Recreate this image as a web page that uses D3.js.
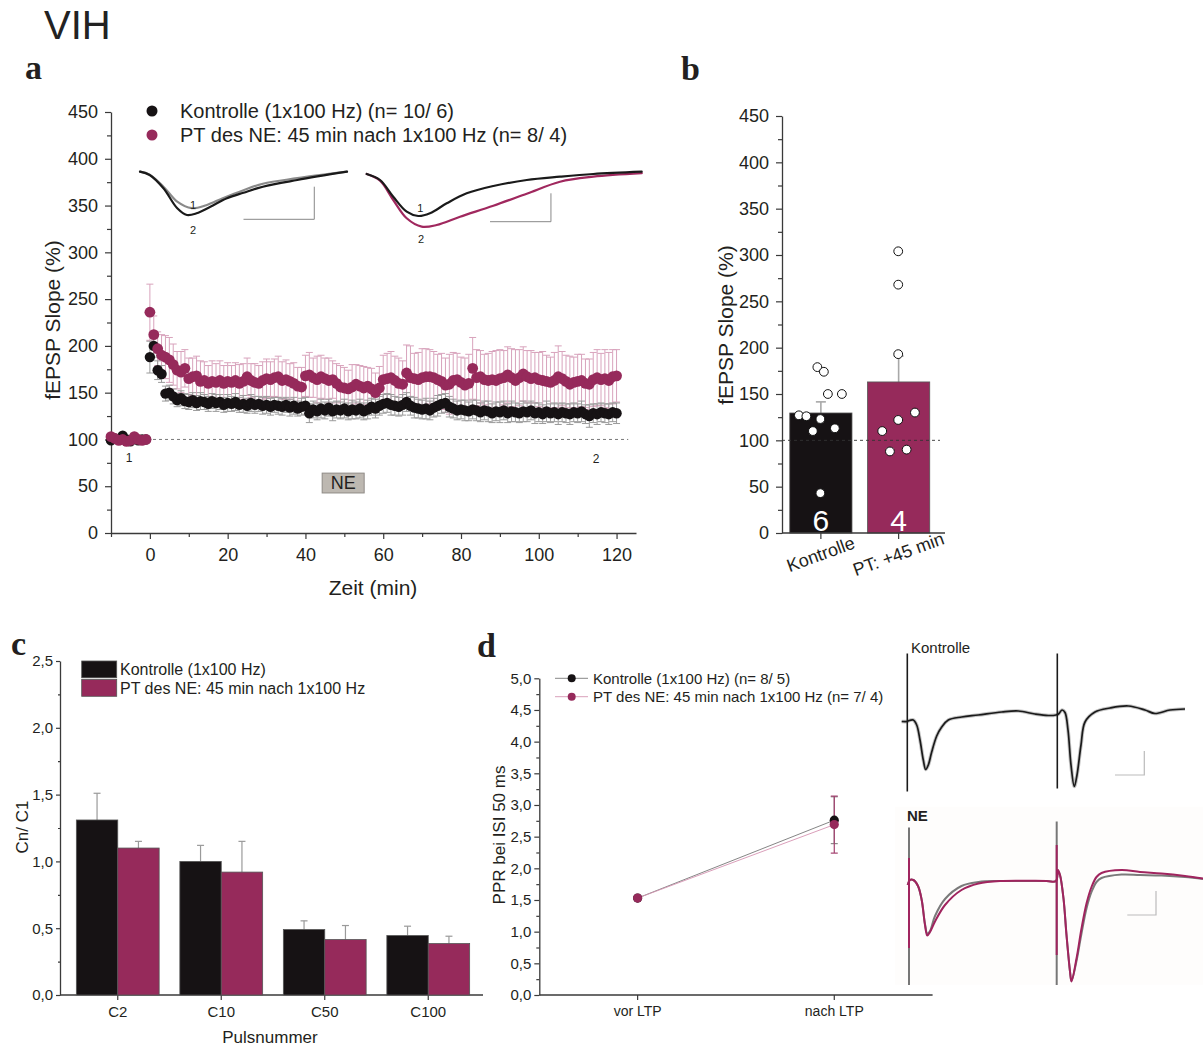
<!DOCTYPE html>
<html><head><meta charset="utf-8">
<script src="https://cdn.jsdelivr.net/npm/d3@7/dist/d3.min.js"></script>
<style>html,body{margin:0;padding:0;background:#fff;}svg{display:block;}</style>
</head><body>
<svg id="fig" width="1203" height="1046" font-family="'Liberation Sans', Arial, Helvetica, sans-serif"></svg>
<script>
// ================= DATA =================
// Panel a: time course (min), baseline -10..-1, then 0..120
const minutes = d3.range(-10, 121);
const kontrolleSlope = [
 99,101,100,104,100,98,101,99,100,100,
 188,200,174,170,149,150,146,142,144,141,
 140,142,139,141,140,138,141,139,140,137,
 139,138,140,137,138,136,139,137,138,136,
 137,135,137,136,135,137,134,136,133,135,
 136,128,132,130,133,131,134,130,132,131,
 133,130,132,131,133,130,132,135,133,136,
 138,139,137,136,135,137,140,136,134,133,
 132,133,131,134,136,138,139,135,133,131,
 132,131,130,132,131,129,131,130,128,130,
 129,131,128,130,129,128,130,129,131,128,
 129,127,130,128,129,127,129,128,127,129,
 128,130,127,125,128,127,129,128,127,129,
 128];
const kontrolleSem = [
 3,3,2,3,3,2,3,2,3,2,
 17,12,10,9,8,8,8,7,8,8,
 8,8,8,9,8,8,8,9,8,8,
 9,8,9,8,9,8,9,9,8,9,
 9,9,8,9,9,8,9,9,8,9,
 9,10,9,9,10,9,9,10,9,9,
 10,9,10,9,10,9,10,9,10,10,
 10,10,11,10,10,11,10,10,11,10,
 10,11,10,10,11,10,10,11,10,10,
 10,11,10,10,11,10,10,11,10,10,
 11,10,10,11,10,10,11,10,10,11,
 10,10,11,10,10,11,10,10,11,10,
 10,11,10,12,10,11,10,10,11,10,
 11];
const ptSlope = [
 103,101,99,100,98,99,103,100,99,100,
 236,212,197,190,188,185,180,174,172,176,
 165,167,168,162,163,160,162,161,163,160,
 162,161,163,160,162,167,163,161,160,163,
 165,164,166,167,163,164,162,160,157,156,
 168,169,166,164,167,165,163,164,160,156,
 155,154,156,159,157,155,157,154,150,155,
 164,165,166,163,160,159,171,166,165,164,
 166,167,167,166,164,162,158,159,163,164,
 161,158,160,176,166,167,164,163,164,163,
 165,166,169,166,163,166,170,167,165,166,
 164,163,162,161,163,167,165,162,159,161,
 162,163,160,159,164,166,164,165,163,167,
 168];
const ptSem = [
 3,3,3,2,3,3,3,2,3,2,
 30,20,18,22,23,24,22,20,22,20,
 22,20,21,22,20,19,22,20,21,19,
 20,18,19,20,19,20,18,20,19,20,
 21,19,20,22,20,21,19,22,20,21,
 22,24,21,25,23,22,24,20,21,23,
 22,20,24,21,22,23,20,22,21,23,
 26,27,28,26,27,25,30,34,27,29,
 31,30,29,28,27,30,29,32,30,28,
 27,29,31,33,30,28,27,29,30,32,
 31,29,30,31,33,30,29,28,30,27,
 29,31,28,27,30,33,29,28,30,27,
 29,28,26,27,29,30,28,31,30,29,
 28];
const neWindow = [44.3, 55.1];           // NE application (min)
const legendA = ["Kontrolle (1x100 Hz) (n= 10/ 6)", "PT des NE: 45 min nach 1x100 Hz (n= 8/ 4)"];
const yTicksA = d3.range(0, 451, 50);
const xTicksA = [0, 20, 40, 60, 80, 100, 120];

// Panel a insets: fEPSP sweeps [ms, mV]
const sweepK1 = [[0,0],[0.7,-0.03],[1.7,-0.15],[2.7,-0.30],[3.75,-0.365],[4.8,-0.335],[6.0,-0.265],[7.5,-0.185],[8.9,-0.12],[11.4,-0.065],[15,0]];
const sweepK2 = [[0,0],[0.7,-0.033],[1.7,-0.166],[2.7,-0.366],[3.4,-0.433],[4.1,-0.416],[5.1,-0.35],[6.3,-0.266],[7.5,-0.21],[8.9,-0.15],[11.4,-0.083],[15,0]];
const sweepP1 = [[0,-0.023],[0.97,-0.083],[1.93,-0.25],[2.91,-0.40],[3.75,-0.443],[4.6,-0.416],[5.82,-0.316],[7.27,-0.216],[9.21,-0.143],[11.64,-0.083],[14.06,-0.05],[16.48,-0.023],[20,0]];
const sweepP2 = [[0,-0.023],[0.97,-0.09],[1.93,-0.283],[2.91,-0.466],[4,-0.55],[5.09,-0.533],[6.79,-0.45],[9.21,-0.34],[11.64,-0.22],[14.06,-0.1],[16.48,-0.05],[20,-0.015]];

// Panel b
const barGroups = ["Kontrolle", "PT: +45 min"];
const barMeans = [129.5, 163];
const barSem = [12, 28];
const barN = ["6", "4"];
const cellsKontrolle = [179, 174, 150, 150, 127, 126, 123, 110, 113, 43];
const cellsPT = [304, 268, 193, 130, 122, 110, 88, 90];

// Panel c
const pulseCats = ["C2", "C10", "C50", "C100"];
const ratioKontrolle = [1.31, 1.00, 0.49, 0.445];
const ratioKontrolleSem = [0.20, 0.12, 0.065, 0.07];
const ratioPT = [1.10, 0.92, 0.415, 0.385];
const ratioPTSem = [0.05, 0.23, 0.105, 0.055];
const legendC = ["Kontrolle (1x100 Hz)", "PT des NE: 45 min nach 1x100 Hz"];

// Panel d
const pprConds = ["vor LTP", "nach LTP"];
const pprKontrolle = [1.53, 2.76];
const pprKontrolleSem = [0, 0.37];
const pprPT = [1.53, 2.69];
const pprPTSem = [0, 0.45];
const legendD = ["Kontrolle (1x100 Hz) (n= 8/ 5)", "PT des NE: 45 min nach 1x100 Hz (n= 7/ 4)"];

// Panel d paired-pulse sweeps [ms, mV]
const ppKontrolle = [[0.34,-0.01],[1.4,-0.01],[1.6,0],[2.66,0.02],[3.34,-0.08],[4.0,-0.38],[4.66,-0.78],[5.14,-0.97],[5.66,-0.88],[6.34,-0.62],[7.34,-0.30],[8.34,-0.12],[9.66,0.02],[12.34,0.08],[15.66,0.12],[20.34,0.18],[23.66,0.2],[27,0.14],[29.66,0.11],[31.2,0.12],[31.7,0.14],[32.4,0.22],[33,0.17],[33.6,-0.18],[34.2,-0.88],[34.86,-1.31],[35.4,-1.08],[36.2,-0.48],[37,-0.02],[39,0.18],[42,0.26],[45.66,0.3],[49,0.22],[51,0.15],[54,0.22],[57,0.24]];
const ppKontrolleStim = [[1.46,1.35,-1.41],[31.46,1.35,-1.35]];
const ppNEbefore = [[1.54,-0.08],[2.0,0.02],[2.66,0.02],[3.6,-0.1],[4.34,-0.38],[5,-0.86],[5.46,-1.05],[6,-1.0],[7,-0.7],[9,-0.36],[12.3,-0.1],[15.7,-0.02],[20,0],[29.3,0],[31.2,0],[31.6,0.2],[32,0.12],[32.7,-0.35],[33.3,-1.08],[34,-1.81],[34.3,-2.0],[35.3,-1.6],[36.3,-1.05],[37.3,-0.55],[38.3,-0.22],[39.3,-0.02],[40.3,0.06],[44.3,0.13],[48,0.12],[52.3,0.11],[57,0.08],[60.6,0.04]];
const ppNEafter = [[1.54,-0.08],[2.0,0.02],[2.66,0.02],[3.6,-0.1],[4.34,-0.38],[5,-0.88],[5.46,-1.09],[6,-1.02],[7,-0.81],[9,-0.48],[12.3,-0.18],[15.7,-0.05],[20,0],[29.3,0],[31.2,0],[31.6,0.22],[32,0.12],[32.7,-0.35],[33.3,-1.08],[34,-1.81],[34.3,-2.01],[35.3,-1.55],[36.3,-0.95],[37.3,-0.45],[38.3,-0.12],[39.3,0.08],[40.3,0.16],[44.3,0.22],[48,0.18],[52.3,0.15],[57,0.1],[60.6,0.05]];
const ppNEbeforeStim = [[1.8,1.07,-2.08],[31.34,1.19,-2.08]];
const ppNEafterStim = [[1.8,0.46,-1.34],[31.34,0.72,-1.48]];

// ================= DRAW =================
const svg = d3.select("#fig");
svg.append("rect").attr("width",1203).attr("height",1046).attr("fill","#fff");
const INK="#231f20", AX="#3a3a3a", PLUM="#962a5b", BLK="#161214";
const commaFmt = d => d.toFixed(1).replace(".", ",");

function styleAxis(g, fs){
  g.attr("font-size",null).attr("font-family",null);
  g.selectAll("text").attr("font-size",fs).attr("fill",INK);
  g.selectAll("line").attr("stroke",AX).attr("stroke-width",1.2);
  g.select(".domain").attr("stroke",AX).attr("stroke-width",1.3);
}
function leftAxis(x, scale, major, minor, fmt, fs, tick, pad){
  const g = svg.append("g").attr("transform",`translate(${x},0)`);
  g.call(d3.axisLeft(scale).tickValues(major).tickSize(tick).tickSizeOuter(0).tickPadding(pad).tickFormat(fmt));
  styleAxis(g, fs);
  const m = svg.append("g").attr("transform",`translate(${x},0)`);
  m.call(d3.axisLeft(scale).tickValues(minor).tickSize(Math.round(tick*0.6)).tickFormat(""));
  m.select(".domain").remove(); styleAxis(m, fs);
}
function bottomAxis(y, scale, major, minor, fmt, fs, tick, pad){
  const g = svg.append("g").attr("transform",`translate(0,${y})`);
  g.call(d3.axisBottom(scale).tickValues(major).tickSize(tick).tickSizeOuter(0).tickPadding(pad).tickFormat(fmt));
  styleAxis(g, fs);
  if (minor && minor.length){
    const m = svg.append("g").attr("transform",`translate(0,${y})`);
    m.call(d3.axisBottom(scale).tickValues(minor).tickSize(Math.round(tick*0.7)).tickFormat(""));
    m.select(".domain").remove(); styleAxis(m, fs);
  }
  return g;
}
function label(x,y,txt,fs,opt={}){
  const t = svg.append("text").attr("x",x).attr("y",y).attr("font-size",fs).attr("fill",opt.fill||INK)
    .attr("text-anchor",opt.anchor||"start").text(txt);
  if(opt.rot!==undefined) t.attr("x",0).attr("y",0).attr("transform",`translate(${x},${y}) rotate(${opt.rot})`);
  if(opt.weight) t.attr("font-weight",opt.weight);
  if(opt.family) t.style("font-family",opt.family);
  return t;
}
const serif = "'Liberation Serif','Times New Roman',serif";

// Title + panel letters
label(44,39,"VIH",40,{fill:"#222"});
label(25,79,"a",34,{weight:"bold",family:serif});
label(681,80,"b",34,{weight:"bold",family:serif});
label(11,655,"c",34,{weight:"bold",family:serif});
label(477,657,"d",34,{weight:"bold",family:serif});

// ---------- Panel a ----------
const xA = d3.scaleLinear().domain([-10,125]).range([111,636]);
const yA = d3.scaleLinear().domain([0,450]).range([533,112]);
leftAxis(111, yA, yTicksA, d3.range(25,450,50), d3.format("d"), 18, 6, 7);
bottomAxis(533, xA, xTicksA, d3.range(-10,121,20), d3.format("d"), 18, 6, 9);
label(60,320,"fEPSP Slope (%)",21,{anchor:"middle",rot:-90});
label(373,595,"Zeit (min)",21,{anchor:"middle"});
// 100 % line
svg.append("line").attr("x1",xA(-10)).attr("x2",xA(123)).attr("y1",yA(100)).attr("y2",yA(100))
  .attr("stroke","#555").attr("stroke-width",0.8).attr("stroke-dasharray","3,3");
// NE box
svg.append("rect").attr("x",xA(neWindow[0])).attr("width",xA(neWindow[1])-xA(neWindow[0]))
  .attr("y",yA(64)).attr("height",yA(42.8)-yA(64)).attr("fill","#bdb8b1").attr("stroke","#8f8b86").attr("stroke-width",1);
label((xA(neWindow[0])+xA(neWindow[1]))/2, yA(46.5), "NE", 18, {anchor:"middle"});
label(129,462,"1",12,{anchor:"middle"});
label(596,463,"2",12,{anchor:"middle"});

const ctrl = minutes.map((t,i)=>({t, v:kontrolleSlope[i], e:kontrolleSem[i]}));
const pt = minutes.map((t,i)=>({t, v:ptSlope[i], e:ptSem[i]}));
function errBars(data, color, cap, sw){
  const g = svg.append("g").attr("stroke",color).attr("stroke-width",sw).attr("fill","none");
  data.forEach(d=>{
    const x = xA(d.t);
    g.append("line").attr("x1",x).attr("x2",x).attr("y1",yA(d.v-d.e)).attr("y2",yA(d.v+d.e));
    g.append("line").attr("x1",x-cap).attr("x2",x+cap).attr("y1",yA(d.v+d.e)).attr("y2",yA(d.v+d.e));
    g.append("line").attr("x1",x-cap).attr("x2",x+cap).attr("y1",yA(d.v-d.e)).attr("y2",yA(d.v-d.e));
  });
}
errBars(pt, "#d8a3bc", 3.5, 1);
errBars(ctrl, "#9a9a9a", 3.5, 1);
svg.append("g").selectAll("circle").data(ctrl).join("circle")
  .attr("cx",d=>xA(d.t)).attr("cy",d=>yA(d.v)).attr("r",5.2).attr("fill",BLK);
svg.append("g").selectAll("circle").data(pt).join("circle")
  .attr("cx",d=>xA(d.t)).attr("cy",d=>yA(d.v)).attr("r",5.4).attr("fill",PLUM);

// legend a
[[BLK,111],[PLUM,135]].forEach(([c,y],i)=>{
  svg.append("circle").attr("cx",152).attr("cy",y).attr("r",5.5).attr("fill",c);
  label(180,y+7,legendA[i],20);
});

// insets a
const yIn = d3.scaleLinear().domain([0,-1]).range([171.7,271.7]);
const xInL = d3.scaleLinear().domain([0,15]).range([140,347]);
const xInR = d3.scaleLinear().domain([0,20]).range([366.7,641.7]);
const sweepLine = xs => d3.line().x(d=>xs(d[0])).y(d=>yIn(d[1])).curve(d3.curveCatmullRom.alpha(0.5));
function drawSweep(data, xs, color, w){
  svg.append("path").datum(data).attr("d",sweepLine(xs)).attr("fill","none").attr("stroke",color)
    .attr("stroke-width",w).attr("stroke-linejoin","round").attr("stroke-linecap","round");
}
drawSweep(sweepK1, xInL, "#8a8a8a", 2.2);
drawSweep(sweepK2, xInL, "#1a1a1a", 2.2);
drawSweep(sweepP2, xInR, "#a0285e", 2.2);
drawSweep(sweepP1, xInR, "#1a1a1a", 2.2);
function scaleBar(xs, t, ms, v, mv){
  svg.append("path").attr("d",`M${xs(t)},${yIn(v)}H${xs(t+ms)}V${yIn(v+mv)}`)
    .attr("fill","none").attr("stroke","#888").attr("stroke-width",1);
}
scaleBar(xInL, 7.5, 5.13, -0.476, 0.326);
scaleBar(xInR, 8.97, 4.43, -0.5, 0.284);
label(xInL(3.85), yIn(-0.33)+4, "1", 11, {anchor:"middle"});
label(xInL(3.85), yIn(-0.58)+4, "2", 11, {anchor:"middle"});
label(xInR(3.9), yIn(-0.36)+4, "1", 11, {anchor:"middle"});
label(xInR(3.95), yIn(-0.67)+4, "2", 11, {anchor:"middle"});

// ---------- Panel b ----------
const yB = d3.scaleLinear().domain([0,450]).range([533,116]);
const xB = d3.scaleBand().domain(barGroups).range([782,937.5]).paddingInner(0.2).paddingOuter(0.1);
leftAxis(782, yB, yTicksA, d3.range(25,450,50), d3.format("d"), 18, 6, 7);
label(733,325,"fEPSP Slope (%)",21,{anchor:"middle",rot:-90});
const barFill = [BLK, PLUM];
barGroups.forEach((g,i)=>{
  const x = xB(g), w = xB.bandwidth(), cx = x + w/2;
  svg.append("line").attr("x1",cx).attr("x2",cx).attr("y1",yB(barMeans[i])).attr("y2",yB(barMeans[i]+barSem[i]))
    .attr("stroke","#a8a8a8").attr("stroke-width",1.6);
  svg.append("line").attr("x1",cx-5).attr("x2",cx+5).attr("y1",yB(barMeans[i]+barSem[i])).attr("y2",yB(barMeans[i]+barSem[i]))
    .attr("stroke","#a8a8a8").attr("stroke-width",1.6);
  svg.append("rect").attr("x",x).attr("width",w).attr("y",yB(barMeans[i])).attr("height",yB(0)-yB(barMeans[i]))
    .attr("fill",barFill[i]).attr("stroke","#555").attr("stroke-width",0.8);
  label(cx, 531, barN[i], 30, {anchor:"middle", fill:"#fff"});
});
svg.append("line").attr("x1",782).attr("x2",940).attr("y1",yB(100)).attr("y2",yB(100))
  .attr("stroke","#333").attr("stroke-width",0.9).attr("stroke-dasharray","3,3");
// x axis b
const gxb = svg.append("g").attr("transform","translate(0,533)");
gxb.append("line").attr("x1",782).attr("x2",945).attr("stroke",AX).attr("stroke-width",1.3);
barGroups.forEach(g=>{
  const cx = xB(g)+xB.bandwidth()/2;
  gxb.append("line").attr("x1",cx).attr("x2",cx).attr("y1",0).attr("y2",6).attr("stroke",AX).attr("stroke-width",1.2);
  label(cx+2, 560, g, 18, {anchor:"middle", rot:-20});
});
// individual cells (jitter is layout only)
const jitK = [-3.5, 3, 7, 21, -22, -14.5, -0.5, -8, 14, -0.5];
const jitP = [-0.4, -0.4, -0.4, 16.3, -0.4, -16.4, -8.7, 8];
[[cellsKontrolle,jitK,0],[cellsPT,jitP,1]].forEach(([vals,jit,i])=>{
  const cx = xB(barGroups[i])+xB.bandwidth()/2;
  svg.append("g").selectAll("circle").data(vals).join("circle")
    .attr("cx",(d,j)=>cx+jit[j]).attr("cy",d=>yB(d)).attr("r",4.4)
    .attr("fill","#fff").attr("stroke","#111").attr("stroke-width",1);
});

// ---------- Panel c ----------
const yC = d3.scaleLinear().domain([0,2.5]).range([995,661]);
const xC = d3.scaleBand().domain(pulseCats).range([66,480]).paddingInner(0.2).paddingOuter(0.1);
const xC1 = d3.scaleBand().domain(["k","p"]).range([0,xC.bandwidth()]);
leftAxis(60, yC, d3.range(0,2.51,0.5), d3.range(0.25,2.5,0.5), commaFmt, 15, 4, 3);
const gxc = svg.append("g").attr("transform","translate(0,995)");
pulseCats.forEach((c,i)=>{
  const x = xC(c);
  [[ratioKontrolle, ratioKontrolleSem, "k", BLK],[ratioPT, ratioPTSem, "p", PLUM]].forEach(([v,e,k,col])=>{
    const bx = x + xC1(k), bw = xC1.bandwidth(), cx = bx + bw/2;
    svg.append("line").attr("x1",cx).attr("x2",cx).attr("y1",yC(v[i])).attr("y2",yC(v[i]+e[i])).attr("stroke","#9a9a9a").attr("stroke-width",1.2);
    svg.append("line").attr("x1",cx-3.5).attr("x2",cx+3.5).attr("y1",yC(v[i]+e[i])).attr("y2",yC(v[i]+e[i])).attr("stroke","#9a9a9a").attr("stroke-width",1.2);
    svg.append("rect").attr("x",bx).attr("width",bw).attr("y",yC(v[i])).attr("height",yC(0)-yC(v[i]))
      .attr("fill",col).attr("stroke","#555").attr("stroke-width",0.8);
  });
  const cx = x + xC.bandwidth()/2;
  gxc.append("line").attr("x1",cx).attr("x2",cx).attr("y1",0).attr("y2",5).attr("stroke",AX).attr("stroke-width",1.2);
  label(cx, 1017, c, 15, {anchor:"middle"});
});
gxc.append("line").attr("x1",60).attr("x2",483).attr("stroke",AX).attr("stroke-width",1.3);
label(28,827,"Cn/ C1",17,{anchor:"middle",rot:-90});
label(270,1043,"Pulsnummer",17,{anchor:"middle"});
[[BLK,661],[PLUM,679.5]].forEach(([c,y],i)=>{
  svg.append("rect").attr("x",81.7).attr("y",y).attr("width",35).attr("height",16.8).attr("fill",c).attr("stroke","#555").attr("stroke-width",0.8);
  label(120,y+14,legendC[i],16);
});

// ---------- Panel d ----------
const xD = d3.scaleLinear().domain([0.5,2.5]).range([539.3,932.6]);
const yD = d3.scaleLinear().domain([0,5]).range([995,678.3]);
// trace background
svg.append("rect").attr("x",895).attr("y",806.7).attr("width",308).attr("height",178).attr("fill","#fefdfc");
leftAxis(539.3, yD, d3.range(0,5.01,0.5), d3.range(0.25,5,0.5), commaFmt, 15, 5, 3);
const gxd = svg.append("g").attr("transform","translate(0,995)");
gxd.append("line").attr("x1",539.3).attr("x2",932.6).attr("stroke",AX).attr("stroke-width",1.3);
pprConds.forEach((c,i)=>{
  const cx = xD(i+1);
  gxd.append("line").attr("x1",cx).attr("x2",cx).attr("y1",0).attr("y2",5).attr("stroke",AX).attr("stroke-width",1.2);
  label(cx, 1016, c, 14, {anchor:"middle"});
});
label(505,835,"PPR bei ISI 50 ms",17,{anchor:"middle",rot:-90});
const pprLine = d3.line().x((d,i)=>xD(i+1)).y(d=>yD(d));
svg.append("path").datum(pprKontrolle).attr("d",pprLine).attr("fill","none").attr("stroke","#777").attr("stroke-width",0.9);
svg.append("path").datum(pprPT).attr("d",pprLine).attr("fill","none").attr("stroke","#d694b2").attr("stroke-width",0.9);
function pprErr(v,e,col){
  v.forEach((m,i)=>{ if(!e[i]) return; const cx = xD(i+1);
    svg.append("line").attr("x1",cx).attr("x2",cx).attr("y1",yD(m-e[i])).attr("y2",yD(m+e[i])).attr("stroke",col).attr("stroke-width",1.2);
    [m-e[i], m+e[i]].forEach(yy=>svg.append("line").attr("x1",cx-3.5).attr("x2",cx+3.5).attr("y1",yD(yy)).attr("y2",yD(yy)).attr("stroke",col).attr("stroke-width",1.2));
  });
}
pprErr(pprKontrolle, pprKontrolleSem, "#8a8a8a");
pprErr(pprPT, pprPTSem, "#a3416f");
svg.append("g").selectAll("circle").data(pprKontrolle).join("circle").attr("cx",(d,i)=>xD(i+1)).attr("cy",d=>yD(d)).attr("r",4.6).attr("fill",BLK);
svg.append("g").selectAll("circle").data(pprPT).join("circle").attr("cx",(d,i)=>xD(i+1)).attr("cy",d=>yD(d)).attr("r",4.6).attr("fill",PLUM);
[[BLK,"#888",678.3],[PLUM,"#d9a0ba",696.7]].forEach(([c,lc,y],i)=>{
  svg.append("line").attr("x1",555).attr("x2",588).attr("y1",y).attr("y2",y).attr("stroke",lc).attr("stroke-width",1);
  svg.append("circle").attr("cx",571.7).attr("cy",y).attr("r",4).attr("fill",c);
  label(593,y+5.5,legendD[i],15);
});

// paired-pulse sweeps
const xPP = d3.scaleLinear().domain([0,60]).range([900,1200]);
const yPPtop = d3.scaleLinear().domain([-1.5,1.5]).range([796,646]);
const yPPbot = d3.scaleLinear().domain([-1.5,1.5]).range([956,806]);
function ppSweep(data, ys, color, w){
  svg.append("path").datum(data).attr("d", d3.line().x(d=>xPP(d[0])).y(d=>ys(d[1])).curve(d3.curveCatmullRom.alpha(0.5)))
    .attr("fill","none").attr("stroke",color).attr("stroke-width",w).attr("stroke-linejoin","round");
}
function ppStim(data, ys, color, w){
  data.forEach(d=>svg.append("line").attr("x1",xPP(d[0])).attr("x2",xPP(d[0])).attr("y1",ys(d[1])).attr("y2",ys(d[2]))
    .attr("stroke",color).attr("stroke-width",w));
}
ppSweep(ppKontrolle, yPPtop, "#c4c4c4", 3.6);
ppStim(ppKontrolleStim, yPPtop, "#1a1a1a", 1.6);
ppSweep(ppKontrolle, yPPtop, "#1a1a1a", 1.7);
ppStim(ppNEbeforeStim, yPPbot, "#777", 2);
ppSweep(ppNEbefore, yPPbot, "#7a7a7a", 2);
ppStim(ppNEafterStim, yPPbot, "#a0245e", 2);
ppSweep(ppNEafter, yPPbot, "#a0245e", 2);
function ppBar(ys, t, ms, v, mv){
  svg.append("path").attr("d",`M${xPP(t)},${ys(v)}H${xPP(t+ms)}V${ys(v+mv)}`).attr("fill","none").attr("stroke","#bbb").attr("stroke-width",1.2);
}
ppBar(yPPtop, 43, 5.86, -1.08, 0.48);
ppBar(yPPbot, 45.46, 5.74, -0.68, 0.48);
label(911,653,"Kontrolle",15);
label(907,821,"NE",15,{weight:"bold"});
</script>
</body></html>
